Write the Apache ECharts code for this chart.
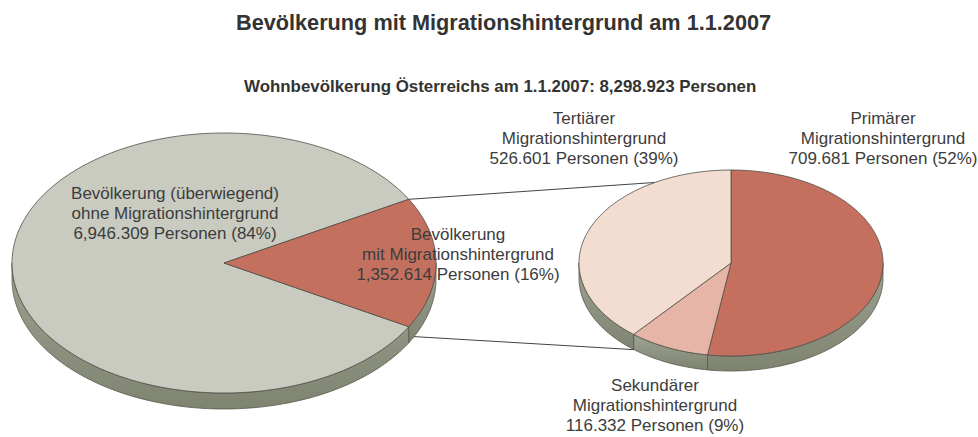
<!DOCTYPE html>
<html>
<head>
<meta charset="utf-8">
<script src="https://cdn.jsdelivr.net/npm/echarts@6/dist/echarts.min.js"></script>
<style>
  html, body { margin: 0; background: #fff; }
  #chart { width: 978px; height: 437px; }
</style>
</head>
<body>
<div id="chart"></div>
<script>
const mainNames = ["Bevölkerung (überwiegend)\nohne Migrationshintergrund", "Bevölkerung\nmit Migrationshintergrund"];
const mainValues = [6946309, 1352614];
const subNames = ["Primärer\nMigrationshintergrund", "Sekundärer\nMigrationshintergrund", "Tertiärer\nMigrationshintergrund"];
const subValues = [709681, 116332, 526601];

const FONT = "Liberation Sans, Arial, sans-serif";
const TEXT = "#3c3c3c";

// Zahlen wie in der Vorlage: 6,946.309 / 526.601
function fmt(n) {
  const s = String(n);
  const g = [];
  for (let i = s.length; i > 0; i -= 3) g.unshift(s.slice(Math.max(0, i - 3), i));
  if (g.length === 3) return g[0] + "," + g[1] + "." + g[2];
  return g.join(".");
}
const sum = a => a.reduce((x, y) => x + y, 0);

// Geometrie der beiden "3D"-Torten
const mainTotal = sum(mainValues);
const subTotal = sum(subValues);
const mainPie = { cx: 224, cy: 263, rx: 212, ry: 130, depth: 16, start: Math.PI * mainValues[1] / mainTotal,
  colors: ["#c9cbc1", "#c4705e"], labels: [[175, 213], [458, 254]] };
const subPie = { cx: 731, cy: 263, rx: 152, ry: 93, depth: 15, start: -Math.PI / 2,
  colors: ["#c5705f", "#e7b5a8", "#f3ddd0"], labels: [[883, 138], [655, 405], [584, 138]] };

function angles(values, start) {
  const t = sum(values);
  let a = start;
  return values.map(v => { const a0 = a; a += v / t * Math.PI * 2; return [a0, a]; });
}
mainPie.angles = angles(mainValues, mainPie.start);
subPie.angles = angles(subValues, subPie.start);

function pt(p, a, dy) { return [p.cx + p.rx * Math.cos(a), p.cy + p.ry * Math.sin(a) + (dy || 0)]; }
function arc(p, a0, a1, dy) {
  const n = Math.max(2, Math.ceil(Math.abs(a1 - a0) / 0.02));
  const out = [];
  for (let i = 0; i <= n; i++) out.push(pt(p, a0 + (a1 - a0) * i / n, dy));
  return out;
}

function pieRender(p, names, values, total) {
  return function (params, api) {
    const i = params.dataIndex;
    let [a0, a1] = p.angles[i];
    const children = [];
    // Seitenwand (nur vordere Hälfte sichtbar)
    const shift = Math.floor(a0 / (2 * Math.PI)) * 2 * Math.PI;
    const b0 = a0 - shift, b1 = a1 - shift;
    [[0, Math.PI], [2 * Math.PI, 3 * Math.PI]].forEach(([l, r]) => {
      const s = Math.max(b0, l), e = Math.min(b1, r);
      if (e > s) {
        const pts = arc(p, s, e, 0).concat(arc(p, e, s, p.depth));
        children.push({
          type: "polygon", shape: { points: pts },
          style: { fill: new echarts.graphic.LinearGradient(0, 0, 0, 1, [{ offset: 0, color: "#9da391" }, { offset: 1, color: "#7e8470" }]),
            stroke: "#55584a", lineWidth: 0.8 }
        });
      }
    });
    // Deckfläche
    children.push({
      type: "polygon", shape: { points: [[p.cx, p.cy]].concat(arc(p, a0, a1, 0)) },
      style: { fill: p.colors[i], stroke: "#4e4e46", lineWidth: 0.8 }
    });
    const v = api.value(0);
    children.push({
      type: "text", x: p.labels[i][0], y: p.labels[i][1], z2: 10,
      style: { text: names[i] + "\n" + fmt(v) + " Personen (" + Math.round(v / total * 100) + "%)",
        fill: TEXT, font: "17px " + FONT, align: "center", verticalAlign: "middle", lineHeight: 20 }
    });
    return { type: "group", children };
  };
}

const mitStart = mainPie.angles[1][0], mitEnd = mainPie.angles[1][1];

const myChart = echarts.init(document.getElementById("chart"), null, { renderer: "svg" });

const option = {
  animation: false,
  title: [
    { text: "Bevölkerung mit Migrationshintergrund am 1.1.2007", left: 236, top: 11, padding: 0,
      textStyle: { fontFamily: FONT, fontSize: 21.7, fontWeight: "bold", color: "#333" } },
    { text: "Wohnbevölkerung Österreichs am 1.1.2007: " + fmt(mainTotal) + " Personen", left: 244, top: 78, padding: 0,
      textStyle: { fontFamily: FONT, fontSize: 16.9, fontWeight: "bold", color: "#333" } }
  ],
  series: [
    {
      type: "custom", coordinateSystem: "none", silent: true,
      data: [0],
      renderItem: function () {
        const u0 = pt(mainPie, mitStart), u1 = pt(subPie, -Math.PI * 2 / 3);
        const l0 = pt(mainPie, mitEnd, mainPie.depth * 0.6), l1 = pt(subPie, Math.PI * 0.72, subPie.depth);
        const st = { stroke: "#444", lineWidth: 1 };
        return { type: "group", children: [
          { type: "line", shape: { x1: u0[0], y1: u0[1], x2: u1[0], y2: u1[1] }, style: st },
          { type: "line", shape: { x1: l0[0], y1: l0[1], x2: l1[0], y2: l1[1] }, style: st }
        ] };
      }
    },
    {
      type: "custom", coordinateSystem: "none", silent: true,
      data: mainValues.map(v => [v]),
      renderItem: pieRender(mainPie, mainNames, mainValues, mainTotal)
    },
    {
      type: "custom", coordinateSystem: "none", silent: true,
      data: subValues.map(v => [v]),
      renderItem: pieRender(subPie, subNames, subValues, subTotal)
    }
  ]
};

myChart.setOption(option);
</script>
</body>
</html>
